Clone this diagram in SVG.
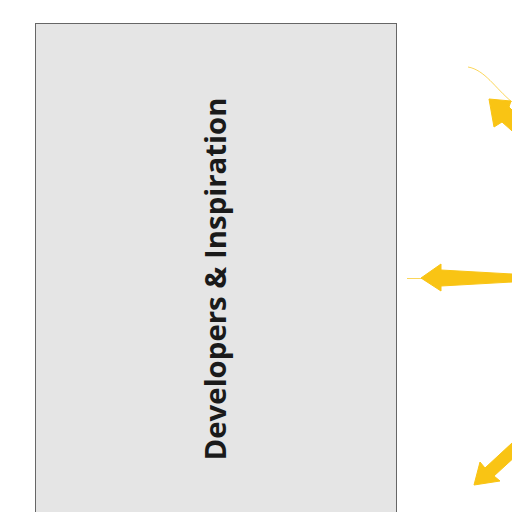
<svg xmlns="http://www.w3.org/2000/svg" width="512" height="512" viewBox="0 0 512 512">
<style>
.box{fill:#e5e5e5;stroke:#666;stroke-width:1}
.lbl{font-family:"Open Sans","Noto Sans",sans-serif;font-weight:bold;font-size:29.4px;fill:#1a1a1a}
.arr{fill:#f9c414;stroke:#f9c414;stroke-width:1;stroke-linejoin:miter}
.thin{fill:none;stroke:#f9c414;stroke-width:1;opacity:0.7}
</style>
<rect width="512" height="512" fill="#fff"/>
<g id="developers">
<rect class="box" x="35.5" y="23.5" width="361" height="500"/>
<text class="lbl" transform="translate(226,279) rotate(-90)" text-anchor="middle">Developers &amp; Inspiration</text>
</g>
<g id="connectors">
<path class="thin" d="M468,67 C485,70 495,88 512,102"/>
<polygon class="arr" points="489,99 511,101 509,107 530,128 520,138 502,122 494,127"/>
<path class="thin" d="M407,278.5 L422,278.5"/>
<polygon class="arr" points="421,278 441,264 441,270 512,274 512,282 441,286 441,291"/>
<polygon class="arr" points="474,485 480,462 485,468 512,443 518,454 494,476 500,481"/>
</g>
</svg>
